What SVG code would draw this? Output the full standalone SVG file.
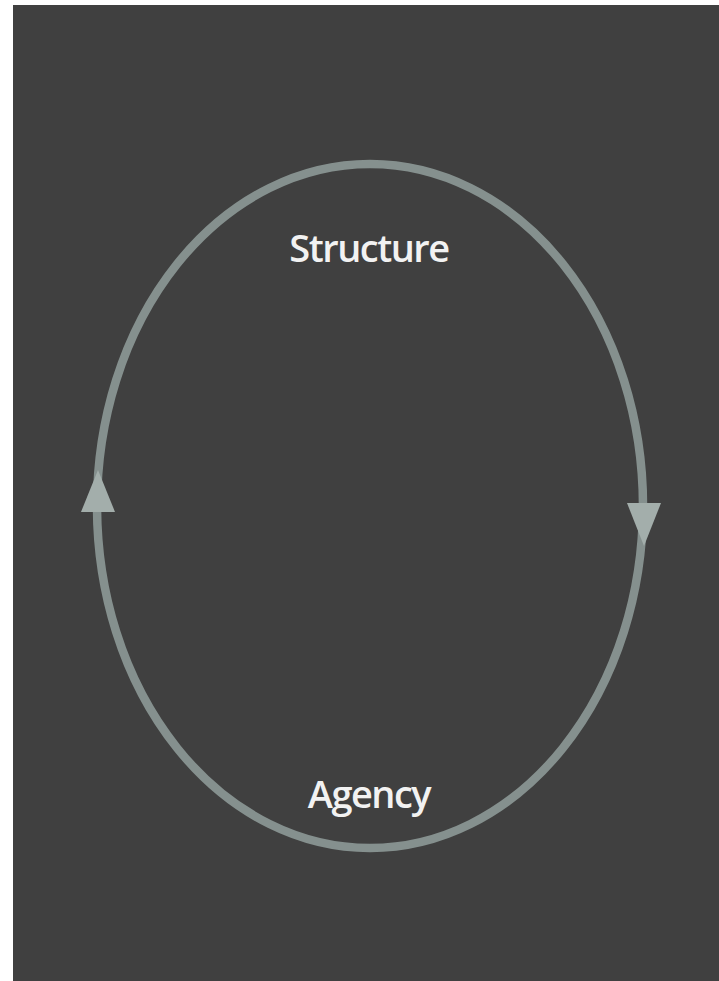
<svg xmlns="http://www.w3.org/2000/svg" width="719" height="981" viewBox="0 0 719 981">
<style>
.lbl{font-family:"Open Sans","Liberation Sans",sans-serif;font-size:38px;font-weight:600;fill:#f2f2f2;text-anchor:middle;letter-spacing:-1.5px}
.ring{fill:none;stroke:#85908e;stroke-width:8.5}
.head{fill:#a3aeab}
</style>
<rect width="719" height="981" fill="#ffffff"/>
<rect x="13" y="5" width="706" height="976" fill="#404040"/>
<g id="connectors">
<ellipse class="ring" cx="370" cy="506" rx="273" ry="342"/>
<polygon class="head" points="98,470 115,512 81,512"/>
<polygon class="head" points="644,546 627,503 661,503"/>
</g>
<g id="structure"><text class="lbl" x="369" y="262">Structure</text></g>
<g id="agency"><text class="lbl" x="369" y="808">Agency</text></g>
</svg>
